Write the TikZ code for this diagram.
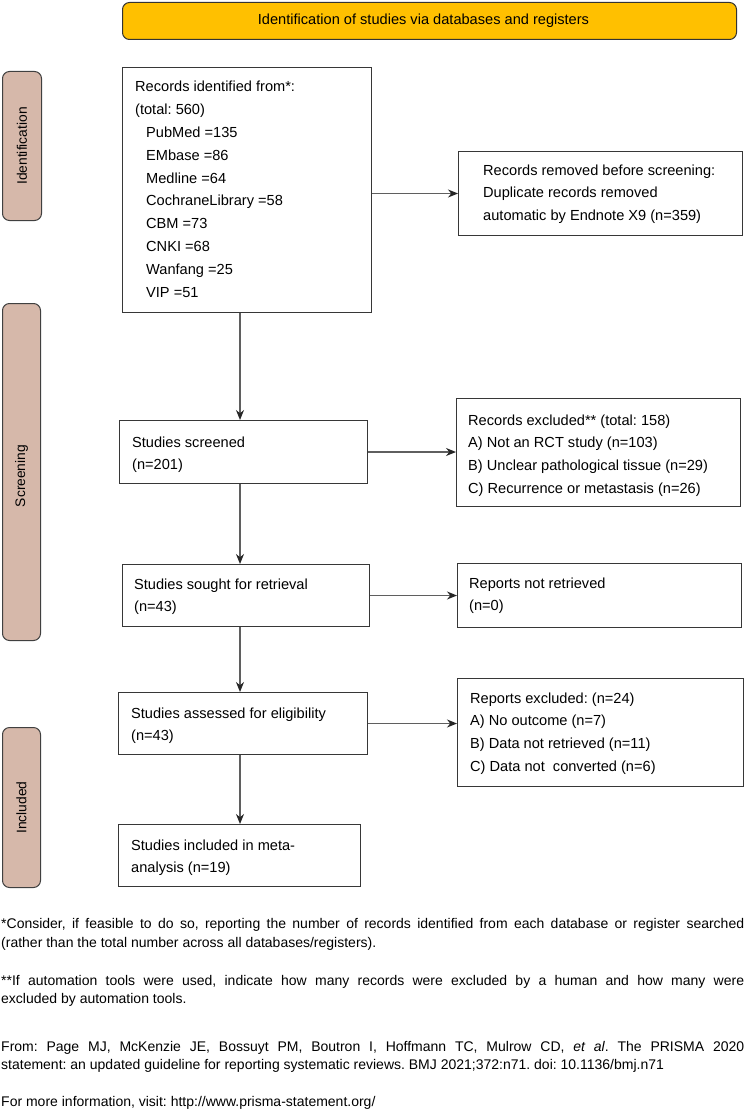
\documentclass[tikz,border=0pt]{standalone}
\usepackage{fontspec}
\setmainfont{Liberation Sans}
\usetikzlibrary{arrows.meta,calc}
\definecolor{amber}{RGB}{255,192,0}
\definecolor{sidefill}{RGB}{214,184,170}
\definecolor{boxline}{RGB}{55,55,55}
\definecolor{arrline}{RGB}{95,95,95}
\frenchspacing
\begin{document}
\begin{tikzpicture}[x=1pt,y=-1pt,
  box/.style={draw=boxline, line width=1pt, inner sep=0pt, anchor=north west},
  side/.style={draw=black!75, fill=sidefill, rounded corners=7pt, line width=1pt, inner sep=0pt, anchor=north west},
  txt/.style={inner sep=0pt, anchor=base west, font=\fontsize{14.6pt}{22.8pt}\selectfont},
  sidetxt/.style={inner sep=0pt, rotate=90, font=\fontsize{13.8pt}{16pt}\selectfont},
  arr/.style={draw=arrline, line width=1.3pt, -{Stealth[length=10pt,width=8pt,black!85]}},
  fn/.style={inner sep=0pt, anchor=base west, font=\fontsize{14pt}{19pt}\selectfont}]
\useasboundingbox (0,0) rectangle (745,1113);

% banner
\node[draw=black!80, fill=amber, rounded corners=7pt, line width=1pt, inner sep=0pt,
      minimum width=614pt, minimum height=37pt, anchor=north west] (ban) at (122,2) {};
\node[inner sep=0pt, font=\fontsize{14.6pt}{18pt}\selectfont] (bant) at ($(ban.center)+(-6,0)$) {Identification of studies via databases and registers};

% side labels
\node[side, minimum width=39pt, minimum height=149pt] (s1) at (2,71) {};
\node[sidetxt] (s1t) at (s1.center) {Identification};
\node[side, minimum width=38pt, minimum height=337pt] (s2) at (2,303) {};
\node[sidetxt] (s2t) at ($(s2.center)+(0,4)$) {Screening};
\node[side, minimum width=38pt, minimum height=160pt] (s3) at (2,727) {};
\node[sidetxt] (s3t) at (s3.center) {Included};

% boxes
\node[box, minimum width=249pt, minimum height=245pt] (b1) at (122,67) {};
\node[box, minimum width=284pt, minimum height=84pt] (b2) at (458,151) {};
\node[box, minimum width=248pt, minimum height=63pt] (b3) at (119,420) {};
\node[box, minimum width=284pt, minimum height=108pt] (b4) at (456,398) {};
\node[box, minimum width=247pt, minimum height=62pt] (b5) at (122,564) {};
\node[box, minimum width=284pt, minimum height=64pt] (b6) at (457,563) {};
\node[box, minimum width=249pt, minimum height=62pt] (b7) at (118,692) {};
\node[box, minimum width=286pt, minimum height=108pt] (b8) at (457,678) {};
\node[box, minimum width=242pt, minimum height=62pt] (b9) at (118,824) {};

% box texts
\node[txt] (t1) at (135,92) {\parbox[t]{230pt}{\raggedright Records identified from*:\\(total: 560)\\
 \hspace*{11pt}PubMed =135\\\hspace*{11pt}EMbase =86\\\hspace*{11pt}Medline =64\\
 \hspace*{11pt}CochraneLibrary =58\\\hspace*{11pt}CBM =73\\\hspace*{11pt}CNKI =68\\
 \hspace*{11pt}Wanfang =25\\\hspace*{11pt}VIP =51}};
\node[txt] (t2) at (483,175) {\parbox[t]{255pt}{\raggedright Records removed before screening:\\Duplicate records removed\\automatic by Endnote X9 (n=359)}};
\node[txt] (t3) at (132,447) {\parbox[t]{230pt}{\raggedright Studies screened\\(n=201)}};
\node[txt] (t4) at (468,425) {\parbox[t]{270pt}{\raggedright Records excluded** (total: 158)\\A) Not an RCT study (n=103)\\B) Unclear pathological tissue (n=29)\\C) Recurrence or metastasis (n=26)}};
\node[txt] (t5) at (134,589) {\parbox[t]{230pt}{\raggedright Studies sought for retrieval\\(n=43)}};
\node[txt] (t6) at (469,588) {\parbox[t]{260pt}{\raggedright Reports not retrieved\\(n=0)}};
\node[txt] (t7) at (131,718) {\parbox[t]{230pt}{\raggedright Studies assessed for eligibility\\(n=43)}};
\node[txt] (t8) at (470,703) {\parbox[t]{265pt}{\raggedright Reports excluded: (n=24)\\A) No outcome (n=7)\\B) Data not retrieved (n=11)\\C) Data not\ \ converted (n=6)}};
\node[txt] (t9) at (131,850) {\parbox[t]{225pt}{\raggedright Studies included in meta-\\analysis (n=19)}};

% connectors
\coordinate (ax) at (240,0);
\draw[arr] (b1.south -| ax) -- (b3.north -| ax);
\draw[arr] (b3.south -| ax) -- (b5.north -| ax);
\draw[arr] (b5.south -| ax) -- (b7.north -| ax);
\draw[arr] (b7.south -| ax) -- (b9.north -| ax);
\draw[arr] (b1.east |- b2.west) -- (b2.west);
\draw[arr] (b3.east) -- (b4.west |- b3.east);
\draw[arr] (b5.east) -- (b6.west |- b5.east);
\draw[arr] (b7.east) -- (b8.west |- b7.east);

% footnotes
\node[fn] (f1) at (1,928) {\makebox[743pt][s]{*Consider, if feasible to do so, reporting the number of records identified from each database or register searched}};
\node[fn] (f2) at (1,947) {(rather than the total number across all databases/registers).};
\node[fn] (f3) at (1,985) {\makebox[743pt][s]{**If automation tools were used, indicate how many records were excluded by a human and how many were}};
\node[fn] (f4) at (1,1003) {excluded by automation tools.};
\node[fn] (f5) at (1,1051) {\makebox[743pt][s]{From: Page MJ, McKenzie JE, Bossuyt PM, Boutron I, Hoffmann TC, Mulrow CD, \textit{et al}. The PRISMA 2020}};
\node[fn] (f6) at (1,1069) {statement: an updated guideline for reporting systematic reviews. BMJ 2021;372:n71. doi: 10.1136/bmj.n71};
\node[fn] (f7) at (1,1106) {For more information, visit: http://www.prisma-statement.org/};
\end{tikzpicture}
\end{document}
